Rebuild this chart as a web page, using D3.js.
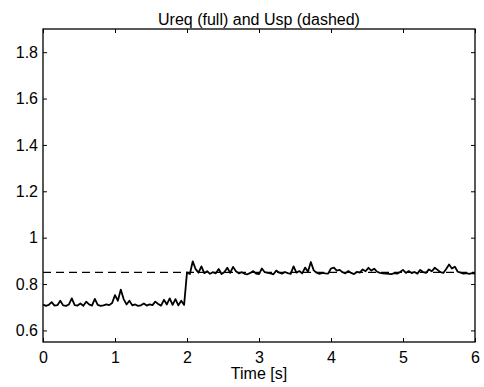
<!DOCTYPE html>
<html>
<head>
<meta charset="utf-8">
<script src="https://cdn.jsdelivr.net/npm/d3@7/dist/d3.min.js"></script>
<style>
  html, body { margin: 0; padding: 0; background: #fff; }
  svg { display: block; font-family: "Liberation Sans", Arial, sans-serif; }
</style>
</head>
<body>
<svg id="chart" width="484" height="387"></svg>
<script>
// Requested control signal Ureq, sampled every 0.04 s from t = 0 to t = 6
const sampleTime = 0.04;
const ureqBefore = [
  0.712,0.706,0.710,0.722,0.707,0.709,0.728,0.708,0.706,0.712,
  0.738,0.709,0.707,0.716,0.706,0.724,0.712,0.707,0.736,0.710,
  0.706,0.708,0.712,0.709,0.718,0.752,0.728,0.776,0.735,0.712,
  0.728,0.708,0.712,0.706,0.708,0.716,0.707,0.712,0.709,0.724,
  0.714,0.707,0.732,0.712,0.738,0.710,0.735,0.708,0.728,0.710
];
const ureqAfter = [
  0.850,0.843,0.898,0.864,0.849,0.876,0.847,0.855,0.844,0.851,
  0.846,0.865,0.843,0.852,0.870,0.848,0.874,0.855,0.846,0.851,
  0.844,0.842,0.848,0.856,0.845,0.843,0.867,0.851,0.848,0.846,
  0.842,0.858,0.849,0.845,0.852,0.847,0.844,0.876,0.849,0.856,
  0.846,0.871,0.853,0.895,0.859,0.849,0.844,0.848,0.846,0.845,
  0.867,0.871,0.858,0.861,0.851,0.846,0.856,0.848,0.843,0.852,
  0.849,0.863,0.855,0.870,0.858,0.866,0.853,0.848,0.846,0.845,
  0.844,0.843,0.847,0.845,0.852,0.861,0.848,0.856,0.847,0.852,
  0.845,0.861,0.851,0.848,0.863,0.855,0.870,0.861,0.851,0.848,
  0.865,0.884,0.867,0.875,0.853,0.849,0.845,0.847,0.844,0.847,
  0.845
];
// Setpoint Usp (dashed)
const uspTimes = [0, 6];
const uspValues = [0.85, 0.85];

const xTicks = [0, 1, 2, 3, 4, 5, 6];
const yTicks = [0.6, 0.8, 1, 1.2, 1.4, 1.6, 1.8];
const xDomain = [0, 6];
const yDomain = [0.55, 1.9];

const titleText = "Ureq (full) and Usp (dashed)";
const xLabelText = "Time [s]";

const margin = { left: 43, right: 9, top: 29, bottom: 45 };
const W = 484, H = 387;
const svg = d3.select("#chart");

const x = d3.scaleLinear().domain(xDomain).range([margin.left, W - margin.right]);
const y = d3.scaleLinear().domain(yDomain).range([H - margin.bottom, margin.top]);

const ureq = ureqBefore.concat(ureqAfter).map((v, i) => ({ t: i * sampleTime, v }));
const usp = uspTimes.map((t, i) => ({ t, v: uspValues[i] }));

const tickLen = 4;
const fontSize = 16;

// Data lines
svg.append("path")
  .datum(usp)
  .attr("fill", "none")
  .attr("stroke", "#000")
  .attr("stroke-width", 1.2)
  .attr("stroke-dasharray", "8,5")
  .attr("d", d3.line().x(d => x(d.t)).y(d => y(d.v)));

svg.append("path")
  .datum(ureq)
  .attr("fill", "none")
  .attr("stroke", "#000")
  .attr("stroke-width", 1.8)
  .attr("stroke-linejoin", "round")
  .attr("d", d3.line().x(d => x(d.t)).y(d => y(d.v)));

// Axes: inward ticks on all four sides, box frame
const axisBottomG = svg.append("g")
  .attr("transform", `translate(0,${H - margin.bottom})`)
  .call(d3.axisBottom(x).tickValues(xTicks).tickSizeInner(-tickLen).tickSizeOuter(0).tickPadding(10).tickFormat(d3.format("d")));
const axisTopG = svg.append("g")
  .attr("transform", `translate(0,${margin.top})`)
  .call(d3.axisTop(x).tickValues(xTicks).tickSizeInner(-tickLen).tickSizeOuter(0).tickFormat(""));
const axisLeftG = svg.append("g")
  .attr("transform", `translate(${margin.left},0)`)
  .call(d3.axisLeft(y).tickValues(yTicks).tickSizeInner(-tickLen).tickSizeOuter(0).tickPadding(5).tickFormat(d => String(+d.toFixed(1))));
const axisRightG = svg.append("g")
  .attr("transform", `translate(${W - margin.right},0)`)
  .call(d3.axisRight(y).tickValues(yTicks).tickSizeInner(-tickLen).tickSizeOuter(0).tickFormat(""));

[axisBottomG, axisTopG, axisLeftG, axisRightG].forEach(g => {
  g.selectAll("path.domain").remove();
  g.selectAll("line").attr("stroke", "#000").attr("stroke-width", 1);
  g.selectAll("text")
    .attr("fill", "#000")
    .style("font-size", fontSize + "px")
    .style("font-family", "Liberation Sans, Arial, sans-serif");
});

svg.append("rect")
  .attr("x", margin.left)
  .attr("y", margin.top)
  .attr("width", W - margin.left - margin.right)
  .attr("height", H - margin.top - margin.bottom)
  .attr("fill", "none")
  .attr("stroke", "#000")
  .attr("stroke-width", 1.3);

// Title and axis label
svg.append("text")
  .attr("x", (margin.left + W - margin.right) / 2)
  .attr("y", 25)
  .attr("text-anchor", "middle")
  .style("font-size", fontSize + "px")
  .text(titleText);

svg.append("text")
  .attr("x", 259)
  .attr("y", 379)
  .attr("text-anchor", "middle")
  .style("font-size", fontSize + "px")
  .text(xLabelText);
</script>
</body>
</html>
